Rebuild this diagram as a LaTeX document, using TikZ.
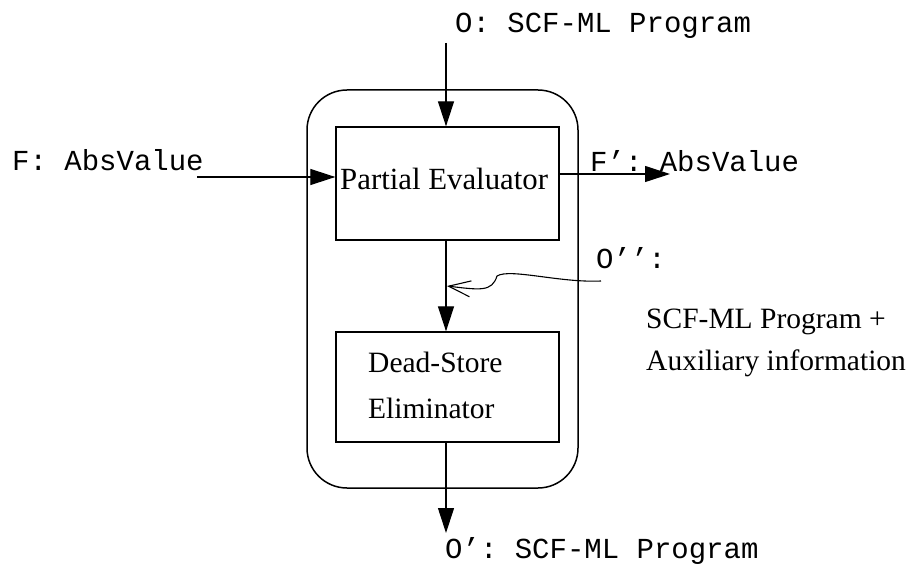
\documentclass[tikz,border=0pt]{standalone}
\usepackage{fontspec}
\setmainfont{Liberation Serif}
\setmonofont{Liberation Mono}
\usetikzlibrary{arrows.meta}
\begin{document}
\begin{tikzpicture}[x=1pt,y=-1pt,
  box/.style={draw,line width=1.3pt,inner sep=0pt},
  flow/.style={line width=1.1pt,-{Triangle[length=25pt,width=16pt]}},
  barb/.style={line width=1.1pt,-{Straight Barb[length=22pt,width=16pt,line width=1.1pt]}},
  tt/.style={font=\fontsize{29}{34}\selectfont\ttfamily,inner sep=0pt,anchor=base west},
  rm/.style={font=\fontsize{29.5}{46}\selectfont,inner sep=0pt,anchor=base west},
]
\useasboundingbox (0,0) rectangle (910,564);
% outer rounded box
\node[draw,line width=1.5pt,rounded corners=40pt,minimum width=271pt,minimum height=398pt,inner sep=0pt] (outer) at (442.5,289) {};
% inner boxes
\node[box,minimum width=223pt,minimum height=113pt] (pe) at (447.5,183.5) {};
\node[box,minimum width=223pt,minimum height=110pt] (ds) at (447.5,387) {};
\node[rm,font=\fontsize{30.8}{36}\selectfont] (petext) at (340,190) {Partial Evaluator};
\node[rm,align=left] (dstext) at (368,418) {Dead-Store\\Eliminator};
% coordinates
\coordinate (ax) at (446,0);
\coordinate (topin) at (446,43);
\coordinate (fin) at (197,177);
\coordinate (fout) at (670,174);
\coordinate (bout) at (446,533);
\coordinate (wstart) at (601,281);
\coordinate (wtip) at (447,286);
% connectors
\draw[flow] (topin) -- (topin |- pe.north);
\draw[flow] (fin) -- (fin -| pe.west);
\draw[flow] (fout -| pe.east) -- (fout);
\draw[flow] (ax |- pe.south) -- (ax |- ds.north);
\draw[flow] (ax |- ds.south) -- (bout);
\draw[barb] (wstart) .. controls (560,283) and (510,268) .. (497,276)
  .. controls (492,292) and (480,290) .. (wtip);
% labels
\node[tt] (lo) at (455,33) {O: SCF-ML Program};
\node[tt] (lf) at (12,171) {F: AbsValue};
\node[tt] (lf2) at (590,172) {F’: AbsValue};
\node[tt] (lo2) at (596,268) {O’’:};
\node[rm] (aux1) at (646,328) {SCF-ML Program +};
\node[rm] (aux2) at (646,370) {Auxiliary information};
\node[tt] (lo1) at (445,558) {O’: SCF-ML Program};
\end{tikzpicture}
\end{document}
